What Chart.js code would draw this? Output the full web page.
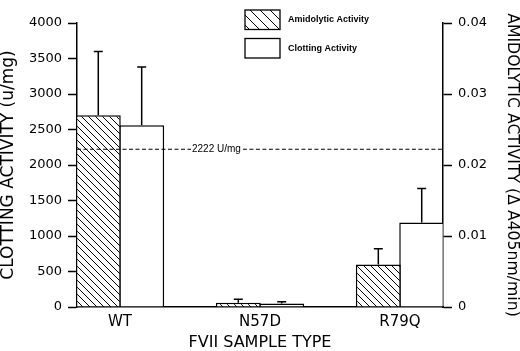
<!DOCTYPE html>
<html>
<head>
<meta charset="utf-8">
<script src="https://cdn.jsdelivr.net/npm/chart.js@4.4.1/dist/chart.umd.min.js"></script>
<style>
html,body{margin:0;padding:0;background:#fff;}
#wrap{width:520px;height:351px;}
</style>
</head>
<body>
<div id="wrap"><canvas id="c" width="520" height="351"></canvas></div>
<script>
// ---- data ----
const categories = ['WT', 'N57D', 'R79Q'];
const amidolytic = [0.027, 0.0006, 0.006];        // ΔA405nm/min (right axis)
const amidolyticSD = [0.009, 0.0005, 0.0022];
const clotting = [2560, 50, 1190];                 // u/mg (left axis)
const clottingSD = [820, 25, 480];
const referenceValue = 2222;
const referenceLabel = '2222 U/mg';
const leftTicks = [0, 500, 1000, 1500, 2000, 2500, 3000, 3500, 4000];
const rightTicks = [0, 0.01, 0.02, 0.03, 0.04];
const rightTickLabels = ['0', '0.01', '0.02', '0.03', '0.04'];

// ---- hatch pattern ----
function makeHatch(s) {
  const p = document.createElement('canvas');
  p.width = s; p.height = s;
  const g = p.getContext('2d');
  g.fillStyle = '#fff';
  g.fillRect(0, 0, s, s);
  g.strokeStyle = '#000';
  g.lineWidth = 1;
  g.beginPath();
  g.moveTo(-1, -1); g.lineTo(s + 1, s + 1);
  g.moveTo(-1, s - 1); g.lineTo(1, s + 1);
  g.moveTo(s - 1, -1); g.lineTo(s + 1, 1);
  g.stroke();
  return g.createPattern(p, 'repeat');
}
const hatch = makeHatch(7);
const legendHatch = makeHatch(10);

const FONT = "'DejaVu Sans', sans-serif";
const SMALL = "'Liberation Sans', Arial, sans-serif";

const extras = {
  id: 'extras',
  afterDatasetsDraw(chart) {
    const ctx = chart.ctx;
    const ca = chart.chartArea;
    const yL = chart.scales.y;
    ctx.save();
    // reference dashed line
    const ry = yL.getPixelForValue(referenceValue);
    ctx.font = '10px ' + SMALL;
    const tw = ctx.measureText(referenceLabel).width;
    const tx = 192;
    ctx.strokeStyle = '#000';
    ctx.lineWidth = 1.2;
    ctx.setLineDash([4, 2.5]);
    ctx.beginPath();
    ctx.moveTo(ca.left, ry); ctx.lineTo(tx - 1, ry);
    ctx.moveTo(tx + tw + 2, ry); ctx.lineTo(ca.right, ry);
    ctx.stroke();
    ctx.setLineDash([]);
    ctx.fillStyle = '#000';
    ctx.textBaseline = 'middle';
    ctx.textAlign = 'left';
    ctx.fillText(referenceLabel, tx, ry);

    // error bars
    const sets = [[0, amidolyticSD, amidolytic], [1, clottingSD, clotting]];
    ctx.lineWidth = 1.5;
    sets.forEach(([di, sd, vals]) => {
      const meta = chart.getDatasetMeta(di);
      const sc = chart.scales[meta.yAxisID];
      meta.data.forEach((bar, i) => {
        const top = sc.getPixelForValue(vals[i] + sd[i]);
        const base = sc.getPixelForValue(vals[i]);
        ctx.beginPath();
        ctx.moveTo(bar.x, base); ctx.lineTo(bar.x, top);
        ctx.moveTo(bar.x - 4.5, top); ctx.lineTo(bar.x + 4.5, top);
        ctx.stroke();
      });
    });

    // legend
    const items = [[chart.data.datasets[0], 10, legendHatch], [chart.data.datasets[1], 38.5, '#fff']];
    ctx.font = 'bold 9px ' + SMALL;
    items.forEach(([ds, y, fill]) => {
      ctx.fillStyle = fill;
      ctx.fillRect(245, y, 35, 19.5);
      ctx.lineWidth = 1.3;
      ctx.strokeStyle = '#000';
      ctx.strokeRect(245, y, 35, 19.5);
      ctx.fillStyle = '#000';
      ctx.fillText(ds.label, 288, y + 10);
    });
    ctx.restore();
  }
};

new Chart(document.getElementById('c'), {
  type: 'bar',
  data: {
    datasets: [
      {
        label: 'Amidolytic Activity',
        data: categories.map((c, i) => ({ x: i, y: amidolytic[i] })),
        yAxisID: 'y2',
        backgroundColor: hatch,
        borderColor: '#000',
        borderWidth: 1.5,
        borderSkipped: 'bottom',
        categoryPercentage: 0.62,
        barPercentage: 1.035
      },
      {
        label: 'Clotting Activity',
        data: categories.map((c, i) => ({ x: i, y: clotting[i] })),
        yAxisID: 'y',
        backgroundColor: '#fff',
        borderColor: '#000',
        borderWidth: 1.5,
        borderSkipped: 'bottom',
        categoryPercentage: 0.62,
        barPercentage: 1.035
      }
    ]
  },
  options: {
    responsive: false,
    animation: false,
    layout: { padding: { top: 23, left: 0, right: 0, bottom: 0 } },
    plugins: { legend: { display: false }, tooltip: { enabled: false } },
    scales: {
      x: {
        type: 'linear',
        min: -0.307,
        max: 2.307,
        offset: false,
        afterBuildTicks: (s) => { s.ticks = categories.map((c, i) => ({ value: i })); },
        afterFit: (s) => { s.height = 44; },
        ticks: {
          autoSkip: false,
          maxRotation: 0,
          padding: 6,
          color: '#000',
          font: { family: FONT, size: 15 },
          callback: (v) => categories[v]
        },
        grid: { display: true, drawOnChartArea: false, drawTicks: false, offset: false },
        border: { display: true, color: '#000', width: 1.5 },
        title: {
          display: true,
          text: 'FVII SAMPLE TYPE',
          color: '#000',
          padding: 0,
          font: { family: FONT, size: 16, lineHeight: 1 }
        }
      },
      y: {
        position: 'left',
        min: 0,
        max: 4000,
        afterBuildTicks: (s) => { s.ticks = leftTicks.map(v => ({ value: v })); },
        afterFit: (s) => { s.width = 77; },
        ticks: {
          padding: 6,
          color: '#000',
          font: { family: FONT, size: 13 },
          callback: (v) => String(v)
        },
        grid: { drawOnChartArea: false, drawTicks: true, tickLength: 9, color: '#000', tickWidth: 1.5 },
        border: { display: true, color: '#000', width: 1.5 },
        title: {
          display: true,
          text: 'CLOTTING ACTIVITY (u/mg)',
          color: '#000',
          padding: 0,
          font: { family: FONT, size: 17, lineHeight: 1 }
        }
      },
      y2: {
        position: 'right',
        min: 0,
        max: 0.04,
        afterBuildTicks: (s) => { s.ticks = rightTicks.map(v => ({ value: v })); },
        afterFit: (s) => { s.width = 77; },
        ticks: {
          padding: 6,
          color: '#000',
          font: { family: FONT, size: 13 },
          callback: (v, i) => rightTickLabels[i]
        },
        grid: { drawOnChartArea: false, drawTicks: true, tickLength: 9, color: '#000', tickWidth: 1.5 },
        border: { display: true, color: '#000', width: 1.5 },
        title: {
          display: true,
          text: 'AMIDOLYTIC ACTIVITY (Δ A405nm/min)',
          color: '#000',
          padding: 0,
          font: { family: FONT, size: 15.7, lineHeight: 1 }
        }
      }
    }
  },
  plugins: [extras]
});
</script>
</body>
</html>
